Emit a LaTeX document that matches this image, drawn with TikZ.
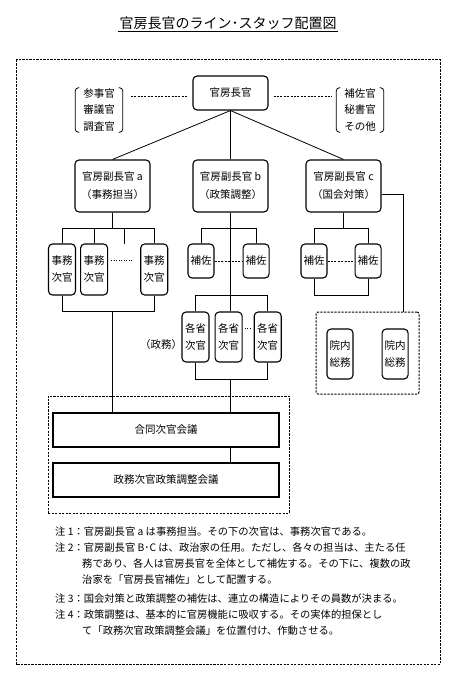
\documentclass[tikz,border=0pt]{standalone}
\usepackage{fontspec}
\setmainfont{Noto Sans CJK JP}
\usetikzlibrary{positioning}
\usetikzlibrary{calc}

\begin{document}
\begin{tikzpicture}[x=1pt, y=-1pt,
	rbox/.style={rectangle,rounded corners=4pt,draw=black,fill=white,line width=1.1pt,align=center,inner sep=0pt,font=\fontsize{10.5}{17}\selectfont},
	vbox/.style={rbox,minimum width=27pt,minimum height=51pt},
	hbox/.style={rbox,minimum width=26pt,minimum height=34pt},
	dbox/.style={rbox,minimum width=75pt,minimum height=52pt,font=\fontsize{10.5}{18}\selectfont},
	mbox/.style={rectangle,draw=black,fill=white,line width=1.1pt,minimum width=226pt,minimum height=34pt,font=\fontsize{10.5}{12}\selectfont},
	grp/.style={rectangle,draw=black,line width=1pt,dash pattern=on 2.2pt off 1.3pt},
	staff/.style={align=center,inner sep=0pt,minimum width=47pt,minimum height=44pt,font=\fontsize{10.5}{16.5}\selectfont},
	dotline/.style={line width=1pt,dash pattern=on 2pt off 1.4pt},
	note/.style={anchor=west,inner sep=0pt,font=\fontsize{10.3}{12}\selectfont},
	line/.style={line width=.8pt}]
	\useasboundingbox (0,0) rectangle (469,700);
	% levels
	\coordinate (lvChief) at (0,97);
	\coordinate (lvBar) at (0,228);
	\coordinate (lvTop) at (0,295);
	\coordinate (lvLow) at (0,311);
	\coordinate (lvBot) at (0,379);
	% title and frame
	\node[font=\fontsize{14}{16}\selectfont,inner sep=1.5pt] (title) at (228,23) {官房長官のライン･スタッフ配置図};
	\draw[line] (title.south west) -- (title.south east);
	\draw[grp] (16,60) rectangle (440,664);
	% top
	\node[rbox,minimum width=75pt,minimum height=34pt] (chief) at (230.5,93) {官房長官};
	\node[staff] (stafL) at (99,110) {参事官\\審議官\\調査官};
	\node[staff] (stafR) at (360,110) {補佐官\\秘書官\\その他};
	\draw[line,rounded corners=3pt] ([xshift=4pt]stafL.north west) -- (stafL.north west) -- (stafL.south west) -- ([xshift=4pt]stafL.south west);
	\draw[line,rounded corners=3pt] ([xshift=-4pt]stafL.north east) -- (stafL.north east) -- (stafL.south east) -- ([xshift=-4pt]stafL.south east);
	\draw[line,rounded corners=3pt] ([xshift=4pt]stafR.north west) -- (stafR.north west) -- (stafR.south west) -- ([xshift=4pt]stafR.south west);
	\draw[line,rounded corners=3pt] ([xshift=-4pt]stafR.north east) -- (stafR.north east) -- (stafR.south east) -- ([xshift=-4pt]stafR.south east);
	% deputies
	\node[dbox] (depA) at (112.5,186) {官房副長官 a\\（事務担当）};
	\node[dbox] (depB) at (230.5,186) {官房副長官 b\\（政策調整）};
	\node[dbox] (depC) at (343.5,186) {官房副長官 c\\（国会対策）};
	% under a
	\node[vbox] (jim1) at (62,269.5) {事務\\次官};
	\node[vbox] (jim2) [right = 4pt of jim1] {事務\\次官};
	\node[vbox] (jim3) [right = 32pt of jim2] {事務\\次官};
	\coordinate (jimDots) at (124,244);
	% under b
	\node[hbox] (hoB1) at (201,261) {補佐};
	\node[hbox] (hoB2) [right = 28pt of hoB1] {補佐};
	\node[vbox,minimum height=50pt] (kak1) at (195.5,337) {各省\\次官};
	\node[vbox,minimum height=50pt] (kak2) [right = 5pt of kak1] {各省\\次官};
	\node[vbox,minimum height=50pt] (kak3) [right = 11pt of kak2] {各省\\次官};
	\node[inner sep=0pt,font=\fontsize{10.5}{12}\selectfont] (seimu) at (161,345) {（政務）};
	% under c
	\node[hbox] (hoC1) at (314,261) {補佐};
	\node[hbox] (hoC2) [right = 27pt of hoC1] {補佐};
	\node[grp,rounded corners=2pt,minimum width=103pt,minimum height=82pt] (inGrp) at (367.5,353) {};
	\node[vbox,minimum width=26pt,minimum height=50pt] (innai1) at (340,354) {院内\\総務};
	\node[vbox,minimum width=26pt,minimum height=50pt] (innai2) [right = 28pt of innai1] {院内\\総務};
	% meetings
	\node[grp,minimum width=241pt,minimum height=117pt] (mtgGrp) at (168.5,454.5) {};
	\node[mbox] (council) at (166,430) {合同次官会議};
	\node[mbox] (policy) at (166,480) {政務次官政策調整会議};
	% lines
	\draw[dotline,shorten <=8pt,shorten >=5pt] (stafL.east |- lvChief) -- (chief.west |- lvChief);
	\draw[dotline,shorten <=5pt,shorten >=4pt] (chief.east |- lvChief) -- (stafR.west |- lvChief);
	\draw[line] (chief.south) -- (depA.north);
	\draw[line] (chief.south) -- (depB.north);
	\draw[line] (chief.south) -- (depC.north);
	\draw[line] (depA.south) -- (depA.south |- lvBar);
	\draw[line] (jim1.north) |- (jim3.north |- lvBar) -- (jim3.north);
	\draw[line] (jim2.north) -- (jim2.north |- lvBar);
	\draw[line] (jimDots) -- (jimDots |- lvBar);
	\draw[dotline,dash pattern=on 1.2pt off 1.3pt,shorten <=3pt,shorten >=8pt] ([yshift=9pt]jim2.east) -- ([yshift=9pt]jim3.west);
	\draw[line] (jim1.south) |- (jim3.south |- lvLow) -- (jim3.south);
	\draw[line] (depA.south |- lvLow) -- (depA.south |- council.north);
	\draw[line] (hoB1.north) |- (hoB2.north |- lvBar) -- (hoB2.north);
	\draw[dotline] (hoB1.east) -- (hoB2.west);
	\draw[line] (depB.south) -- (depB.south |- kak2.north);
	\draw[line] (kak1.north) |- (kak3.north |- lvTop) -- (kak3.north);
	\draw[line] (kak1.south) |- (kak3.south |- lvBot) -- (kak3.south);
	\draw[dotline,dash pattern=on 1.2pt off 1.3pt,shorten <=2pt,shorten >=2pt] ([yshift=9pt]kak2.east) -- ([yshift=9pt]kak3.west);
	\draw[line] (depB.south |- lvBot) -- (depB.south |- council.north);
	\draw[line] (depB.south |- council.south) -- (depB.south |- policy.north);
	\draw[line] (depC.south) -- (depC.south |- lvBar);
	\draw[line] (hoC1.north) |- (hoC2.north |- lvBar) -- (hoC2.north);
	\draw[line] (hoC1.south) |- (hoC2.south |- lvTop) -- (hoC2.south);
	\draw[dotline] (hoC1.east) -- (hoC2.west);
	\draw[line] ([yshift=-8pt]depC.east) -| ([xshift=35.5pt]inGrp.north);
	% notes
	\node[note] (n1) at (55,532) {注 1：官房副長官 a は事務担当。その下の次官は、事務次官である。};
	\node[note] (n2) at (55,548) {注 2：官房副長官 B･C は、政治家の任用。ただし、各々の担当は、主たる任};
	\node[note] (n3) at (82,564) {務であり、各人は官房長官を全体として補佐する。その下に、複数の政};
	\node[note] (n4) at (82,580) {治家を「官房長官補佐」として配置する。};
	\node[note] (n5) at (55,599) {注 3：国会対策と政策調整の補佐は、連立の構造によりその員数が決まる。};
	\node[note] (n6) at (55,615) {注 4：政策調整は、基本的に官房機能に吸収する。その実体的担保とし};
	\node[note] (n7) at (82,631) {て「政務次官政策調整会議」を位置付け、作動させる。};
\end{tikzpicture}
\end{document}
